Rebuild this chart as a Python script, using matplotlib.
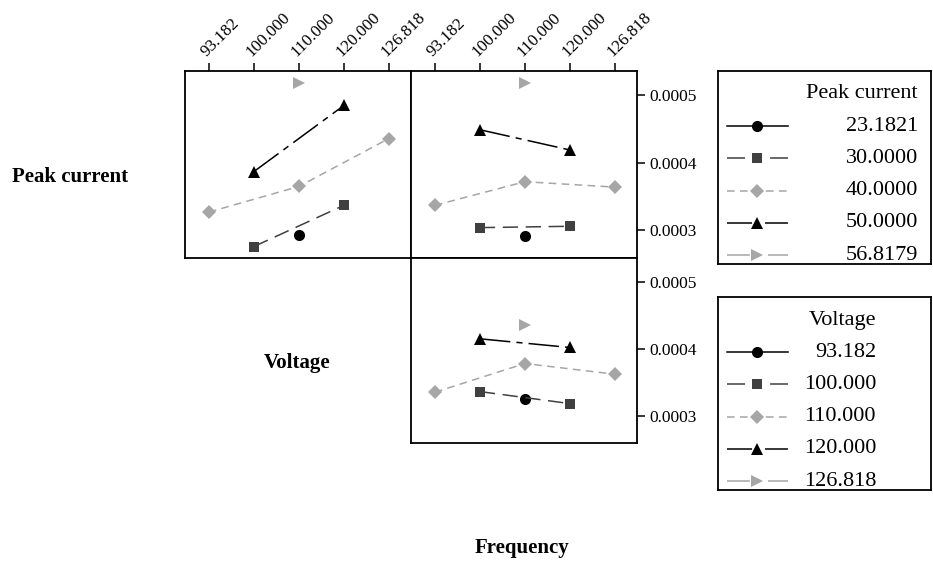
import numpy as np
import matplotlib
matplotlib.use('Agg')
import matplotlib.pyplot as plt
from matplotlib.lines import Line2D

plt.rcParams['font.family'] = ['Liberation Serif', 'DejaVu Serif']

# niveles de los factores (eje x categórico)
niveles = ['93.182', '100.000', '110.000', '120.000', '126.818']
pc_labels = ['23.1821', '30.0000', '40.0000', '50.0000', '56.8179']
volt_labels = ['93.182', '100.000', '110.000', '120.000', '126.818']

# posiciones de los puntos de cada serie (índice del nivel)
serie_x = [[3], [2, 4], [1, 3, 5], [2, 4], [3]]

# medias
arriba_izq = [[0.000293], [0.000276, 0.000337], [0.000327, 0.000365, 0.000436],
              [0.000387, 0.000485], [0.000518]]
arriba_der = [[0.000291], [0.000304, 0.000306], [0.000337, 0.000372, 0.000364],
              [0.000449, 0.000419], [0.000518]]
abajo_der = [[0.000325], [0.000336, 0.000318], [0.000335, 0.000378, 0.000362],
             [0.000415, 0.000402], [0.000435]]

# estilo de cada serie
marcadores = ['o', 's', 'D', '^', '>']
colores = ['black', '#404040', '#a6a6a6', 'black', '#a6a6a6']
tam = [8, 7.5, 7, 9, 9]
guiones = [None, (10, 5), (5, 3.5), (20, 4, 4, 4), (16, 5, 12, 5)]
# patrones para las muestras cortas de la leyenda
guiones_ley = [None, (11.8, 16.4), (5, 3.5), (16.4, 8.5, 15, 5), (15, 11.8, 13.1, 5)]

W, H = 933, 565
fig = plt.figure(figsize=(W / 100, H / 100), dpi=100)


def rect(x0, y0, x1, y1):
    return [x0 / W, 1 - y1 / H, (x1 - x0) / W, (y1 - y0) / H]


def dibujar(ax, datos):
    for i in range(5):
        ls = '-' if guiones[i] is None else (0, guiones[i])
        ax.plot(serie_x[i], datos[i], color=colores[i], lw=1.1, linestyle=ls,
                marker=marcadores[i], markersize=tam[i], markeredgewidth=0)
    ax.set_xlim(0.47, 5.49)
    ax.set_ylim(0.000259, 0.000536)
    for s in ax.spines.values():
        s.set_linewidth(1.3)


ax1 = fig.add_axes(rect(185, 71, 411, 258))
ax2 = fig.add_axes(rect(411, 71, 637, 258))
ax3 = fig.add_axes(rect(411, 258, 637, 443))

dibujar(ax1, arriba_izq)
dibujar(ax2, arriba_der)
dibujar(ax3, abajo_der)

for ax in [ax1, ax2]:
    ax.xaxis.tick_top()
    ax.set_xticks(range(1, 6))
    ax.set_xticklabels(niveles, fontsize=12.3, rotation=45, ha='left',
                       va='bottom', rotation_mode='anchor')
    ax.tick_params(axis='x', direction='out', length=6, width=1.1, pad=2)
ax3.set_xticks([])
ax1.set_yticks([])

for ax in [ax2, ax3]:
    ax.yaxis.tick_right()
    ax.set_yticks([0.0003, 0.0004, 0.0005])
    ax.set_yticklabels(['0.0003', '0.0004', '0.0005'], fontsize=12.5)
    ax.tick_params(axis='y', direction='out', length=6, width=1.1, pad=3)

# nombres de los factores
fig.text(70 / W, 1 - 177 / H, 'Peak current', ha='center', va='center',
         fontsize=15, fontweight='bold')
fig.text(297 / W, 1 - 363 / H, 'Voltage', ha='center', va='center',
         fontsize=15, fontweight='bold')
fig.text(522 / W, 1 - 548 / H, 'Frequency', ha='center', va='center',
         fontsize=15, fontweight='bold')


def leyenda(y0, titulo, etiquetas, x_texto):
    lx = fig.add_axes(rect(718, y0, 931, y0 + 193))
    lx.set_xlim(718, 931)
    lx.set_ylim(y0 + 193, y0)
    lx.set_xticks([])
    lx.set_yticks([])
    for s in lx.spines.values():
        s.set_linewidth(1.3)
    filas = [y0 + 23 + 32.2 * k for k in range(6)]
    lx.text(x_texto, filas[0], titulo, ha='right', va='center', fontsize=16)
    for i in range(5):
        ls = '-' if guiones_ley[i] is None else (0, guiones_ley[i])
        lx.add_line(Line2D([727, 788], [filas[i + 1]] * 2, color=colores[i],
                           lw=1.1, linestyle=ls))
        lx.plot([757], [filas[i + 1]], marker=marcadores[i], color=colores[i],
                markersize=tam[i], markeredgewidth=0)
        lx.text(x_texto, filas[i + 1], etiquetas[i], ha='right', va='center',
                fontsize=16)


leyenda(71, 'Peak current', pc_labels, 918)
leyenda(297, 'Voltage', volt_labels, 876)

fig.savefig('out.png', dpi=100)
